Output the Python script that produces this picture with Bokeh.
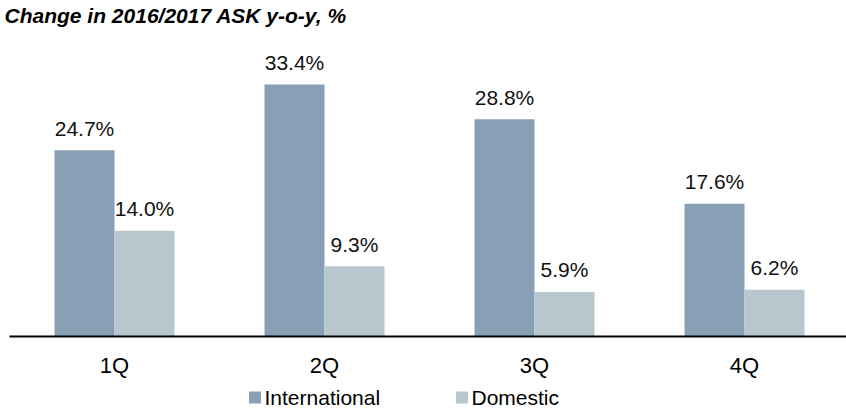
from bokeh.plotting import figure
from bokeh.models import Range1d, Label
from bokeh.core.properties import value
from bokeh.embed import file_html
from bokeh.resources import INLINE

categories = ["1Q", "2Q", "3Q", "4Q"]
international = [24.7, 33.4, 28.8, 17.6]
domestic = [14.0, 9.3, 5.9, 6.2]
series_names = ["International", "Domestic"]
title_text = "Change in 2016/2017 ASK y-o-y, %"

INT_COLOR = "#889FB6"
DOM_COLOR = "#B8C7CE"
FONT = "Liberation Sans"

W, H = 846, 411
PX_PER_CAT = 210.0          # pixels per category band
FIRST_CENTER_PX = 114.0     # pixel of first category centre
BAR_W = 60.0 / PX_PER_CAT   # bar width in data units
BASE_PX_FROM_BOTTOM = 75.0
PX_PER_UNIT = 7.545

p = figure(width=W, height=H, output_backend="svg", toolbar_location=None,
           min_border=0, min_border_left=0, min_border_right=0,
           min_border_top=0, min_border_bottom=0)
p.x_range = Range1d(0, W / PX_PER_CAT)
p.y_range = Range1d(-BASE_PX_FROM_BOTTOM / PX_PER_UNIT, (H - BASE_PX_FROM_BOTTOM) / PX_PER_UNIT)
p.axis.visible = False
p.grid.visible = False
p.outline_line_color = None
p.background_fill_color = "white"
p.border_fill_color = "white"

centers = [(FIRST_CENTER_PX + PX_PER_CAT * i) / PX_PER_CAT for i in range(len(categories))]
x_int = [c - BAR_W / 2 for c in centers]
x_dom = [c + BAR_W / 2 for c in centers]

p.vbar(x=x_int, top=international, bottom=0, width=BAR_W, fill_color=INT_COLOR, line_color=None)
p.vbar(x=x_dom, top=domestic, bottom=0, width=BAR_W, fill_color=DOM_COLOR, line_color=None)

# value labels
p.text(x=x_int, y=international, text=[f"{v:.1f}%" for v in international],
       text_font=value(FONT), text_font_size="21px", text_color="#111111",
       text_align="center", text_baseline="middle", y_offset=-22)
p.text(x=x_dom, y=domestic, text=[f"{v:.1f}%" for v in domestic],
       text_font=value(FONT), text_font_size="21px", text_color="#111111",
       text_align="center", text_baseline="middle", y_offset=-22)

# baseline
p.segment(x0=[9 / PX_PER_CAT], y0=[0], x1=[W / PX_PER_CAT], y1=[0], line_color="black", line_width=2)

# category labels
p.text(x=centers, y=[0] * len(categories), text=categories,
       text_font=value(FONT), text_font_size="22px", text_color="black",
       text_align="center", text_baseline="middle", y_offset=29)

# legend
leg_sq_x = [254.5 / PX_PER_CAT, 461.5 / PX_PER_CAT]
leg_tx_x = [264 / PX_PER_CAT, 471 / PX_PER_CAT]
p.rect(x=leg_sq_x, y=[-61 / PX_PER_UNIT] * 2, width=12 / PX_PER_CAT, height=12 / PX_PER_UNIT,
       fill_color=[INT_COLOR, DOM_COLOR], line_color=None)
p.text(x=leg_tx_x, y=[0, 0], text=series_names,
       text_font=value(FONT), text_font_size="21px", text_color="black",
       text_align="left", text_baseline="middle", y_offset=61)

p.add_layout(Label(x=4, y=H - 15, x_units="screen", y_units="screen", text=title_text,
                   text_font=FONT, text_font_size="21px", text_font_style="bold italic",
                   text_color="black", text_baseline="middle", text_align="left"))

open("out.html", "w").write(file_html(p, INLINE))
